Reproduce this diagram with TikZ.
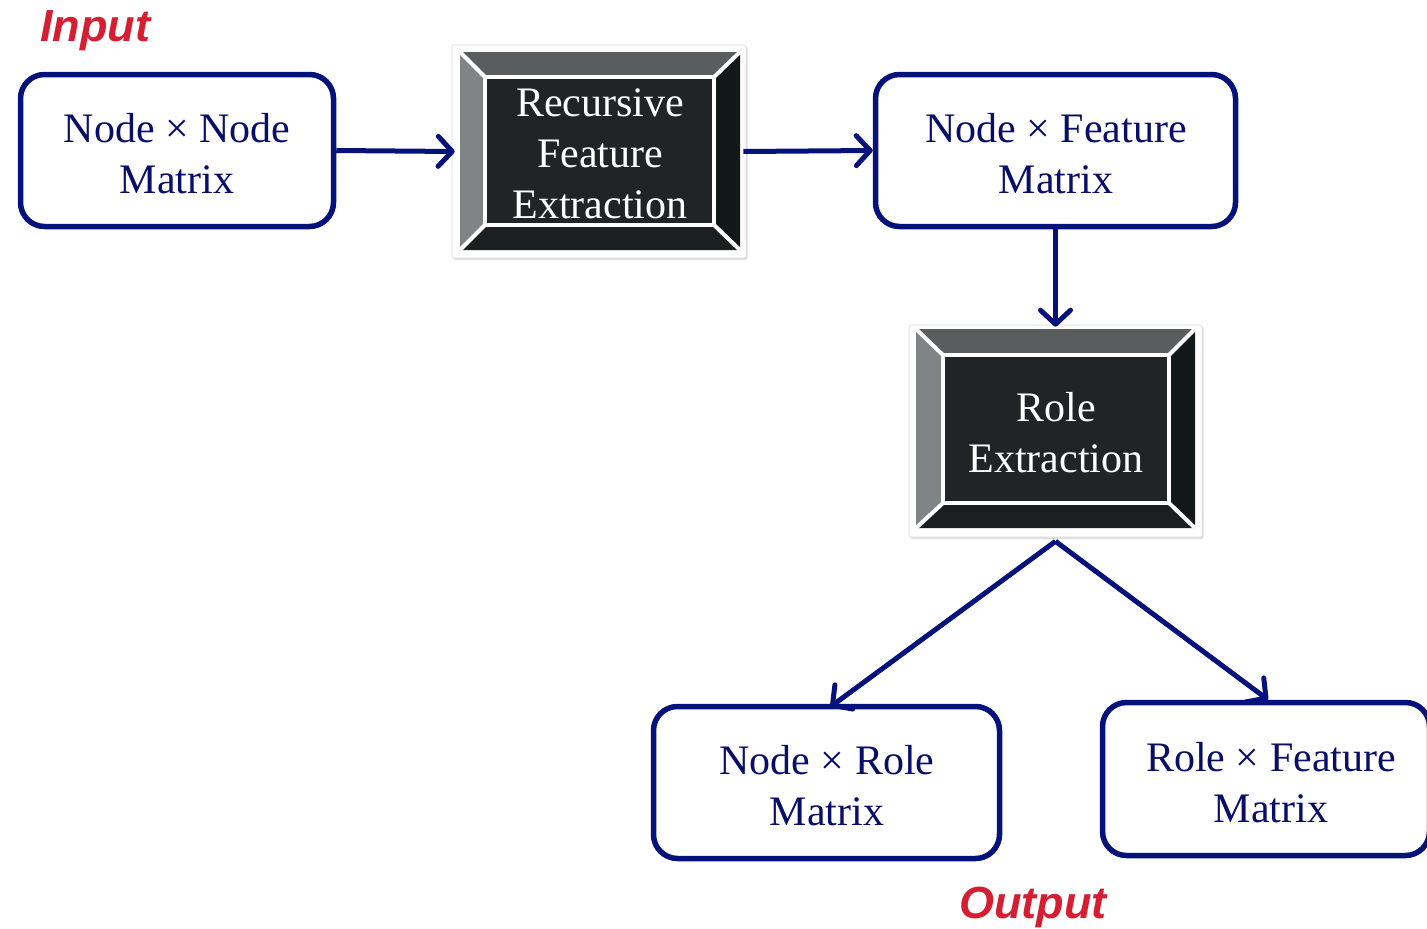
\documentclass[tikz,border=0pt]{standalone}
\usepackage{fontspec}
\setmainfont{Liberation Serif}
\newfontfamily\labfont{Liberation Sans}
\usetikzlibrary{arrows.meta,shadows}
\definecolor{navy}{RGB}{6,18,124}
\definecolor{navytext}{RGB}{8,14,104}
\definecolor{redlab}{RGB}{214,30,50}
\definecolor{bvtop}{RGB}{90,93,94}
\definecolor{bvleft}{RGB}{128,132,133}
\definecolor{bvright}{RGB}{18,24,24}
\definecolor{bvbottom}{RGB}{28,31,31}
\definecolor{bvpanel}{RGB}{32,36,36}
\tikzset{
  rbox/.style={draw=navy, line width=5.5pt, rounded corners=24pt, fill=white, inner sep=0pt},
  boxtext/.style={text=navytext, align=center, font=\fontsize{42}{51}\selectfont, inner sep=0pt},
  frame/.style={fill=white, draw=white!85!black, line width=0.6pt, rounded corners=2pt,
    drop shadow={shadow xshift=1.5pt, shadow yshift=-2pt, opacity=0.25}, inner sep=0pt},
  bvtext/.style={text=white, align=center, font=\fontsize{42}{51}\selectfont, inner sep=0pt},
  conn/.style={draw=navy, line width=5pt, -{Straight Barb[length=14pt,width=30pt,line width=5pt,round]}},
  lab/.style={text=redlab, font=\labfont\bfseries\itshape\fontsize{45}{50}\selectfont, inner sep=0pt}
}
\newcommand{\bevelbox}[8]{% x1 y1 x2 y2 (outer), ix1 iy1 ix2 iy2 (inner)
  \fill[bvtop] (#1,#2) -- (#3,#2) -- (#7,#6) -- (#5,#6) -- cycle;
  \fill[bvleft] (#1,#2) -- (#5,#6) -- (#5,#8) -- (#1,#4) -- cycle;
  \fill[bvright] (#3,#2) -- (#3,#4) -- (#7,#8) -- (#7,#6) -- cycle;
  \fill[bvbottom] (#1,#4) -- (#3,#4) -- (#7,#8) -- (#5,#8) -- cycle;
  \fill[bvpanel] (#5,#6) rectangle (#7,#8);
  \draw[white, line width=4.5pt] (#5,#6) rectangle (#7,#8);
  \draw[white, line width=4pt] (#1,#2) -- (#5,#6) (#3,#2) -- (#7,#6) (#1,#4) -- (#5,#8) (#3,#4) -- (#7,#8);
}
\begin{document}
\begin{tikzpicture}[x=1pt,y=-1pt]
\useasboundingbox (0,0) rectangle (1427,929);

% labels
\node[lab] (inlab) at (95,31) {Input};
\node[lab] (outlab) at (1033,907) {Output};

% rounded boxes
\node[rbox, minimum width=313pt, minimum height=152pt] (a) at (177,150.5) {};
\node[boxtext] (at) at (177,154) {Node \texttimes{} Node\\Matrix};
\node[rbox, minimum width=360pt, minimum height=152pt] (c) at (1055.5,150.5) {};
\node[boxtext] (ct) at (1056,154) {Node \texttimes{} Feature\\Matrix};
\node[rbox, minimum width=346pt, minimum height=152pt] (e) at (826.5,782.5) {};
\node[boxtext] (et) at (827,786) {Node \texttimes{} Role\\Matrix};
\node[rbox, minimum width=327pt, minimum height=153pt] (f) at (1266,779) {};
\node[boxtext] (ft) at (1271,783) {Role \texttimes{} Feature\\Matrix};

% bevel box B
\node[frame, minimum width=294pt, minimum height=213pt] (b) at (599,151.5) {};
\bevelbox{460}{52}{740}{250}{485}{77}{714}{225}
\node[bvtext] (btext) at (600,154) {Recursive\\Feature\\Extraction};

% bevel box D
\node[frame, minimum width=293pt, minimum height=212pt] (d) at (1055.5,431) {};
\bevelbox{916}{329}{1195}{528}{943}{355}{1169}{503}
\node[bvtext] (dtext) at (1056,433) {Role\\Extraction};

% connectors
\draw[conn] (a.east) -- ([xshift=3pt]b.west);
\draw[conn] ([xshift=-3pt]b.east) -- (c.west);
\draw[conn] (c.south) -- ([yshift=-2pt]d.north);
\draw[conn] ([yshift=-4pt]d.south) -- ([xshift=4pt,yshift=-3pt]e.north);
\draw[conn] ([yshift=-4pt]d.south) -- ([xshift=2pt,yshift=0pt]f.north);
\end{tikzpicture}
\end{document}
